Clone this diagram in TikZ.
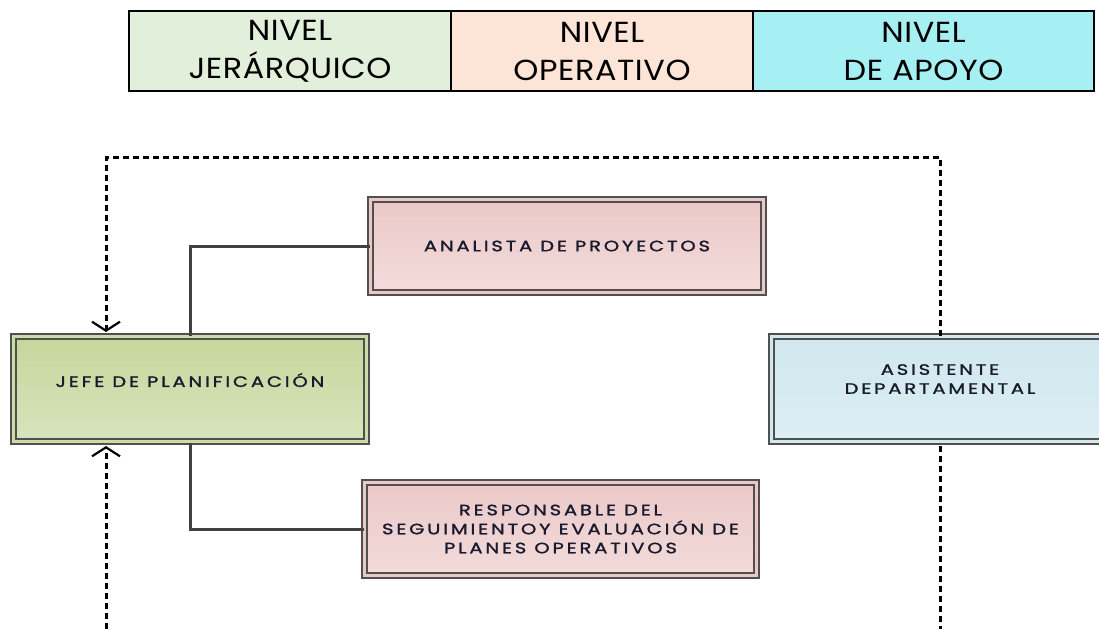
\documentclass[tikz,border=0pt]{standalone}
\usepackage{fontspec}
\setmainfont{Poppins}
\newfontfamily\headfont[FakeStretch=1.1,LetterSpace=2]{Poppins}
\newfontfamily\boxfont[FakeStretch=1.3,LetterSpace=19,FakeBold=1.6]{Poppins}
\usetikzlibrary{arrows.meta,shadows}
\definecolor{hgreen}{HTML}{E2EFDA}
\definecolor{hpeach}{HTML}{FCE4D6}
\definecolor{hcyan}{HTML}{A6EFF2}
\definecolor{bordgray}{HTML}{505050}
\definecolor{conngray}{HTML}{404040}
\definecolor{gtop}{HTML}{C4D79B}
\definecolor{gbot}{HTML}{D8E4BE}
\definecolor{ptop}{HTML}{EBC8C8}
\definecolor{pbot}{HTML}{F2DCDB}
\definecolor{btop}{HTML}{D0E8EE}
\definecolor{bbot}{HTML}{DCEEF3}
\definecolor{txt}{HTML}{1A1A2E}
\tikzset{
  hcell/.style={draw=black, line width=1.6pt, inner sep=0pt, minimum height=80,
    align=center, font=\headfont\fontsize{29}{38}\selectfont},
  orgbox/.style={draw=bordgray, line width=2pt, double distance=3pt,
    shading=axis, shading angle=0, inner sep=0pt,
    drop shadow={shadow xshift=2.5pt, shadow yshift=-2.5pt, fill=black, opacity=0.22}},
  boxtext/.style={align=center, inner sep=0pt, text=txt,
    font=\boxfont\fontsize{15}{19}\selectfont},
  conn/.style={draw=conngray, line width=3pt},
  dl/.style={draw=black, line width=3pt, dash pattern=on 6pt off 4pt},
  arr/.style={-{Straight Barb[length=9pt,width=28pt,line width=2.2pt]}}
}
\begin{document}
\begin{tikzpicture}[x=1pt,y=1pt]
\clip (0,0) rectangle (1099,-629);
\fill[white] (0,0) rectangle (1099,-629);
% header table
\node[hcell, fill=hgreen, minimum width=322] (h1) at (290,-51) {NIVEL\\JERÁRQUICO};
\node[hcell, fill=hpeach, minimum width=302] (h2) at (602,-51) {NIVEL\\OPERATIVO};
\node[hcell, fill=hcyan, minimum width=341] (h3) at (923.5,-51) {NIVEL\\DE APOYO};
% boxes
\node[orgbox, top color=gtop, bottom color=gbot, double=gtop!60!gbot,
  minimum width=353, minimum height=105] (jefe) at (190,-389) {};
\node[orgbox, top color=ptop, bottom color=pbot, double=ptop,
  minimum width=393, minimum height=93] (anal) at (567,-246) {};
\node[orgbox, top color=ptop, bottom color=pbot, double=ptop,
  minimum width=392, minimum height=93] (resp) at (560.5,-529) {};
\node[orgbox, top color=btop, bottom color=bbot, double=btop,
  minimum width=337, minimum height=105] (asis) at (940,-389) {};
% texts
\node[boxtext] (jefet) at (190,-380) {JEFE DE PLANIFICACIÓN};
\node[boxtext] (analt) at (567,-246) {ANALISTA DE PROYECTOS};
\node[boxtext] (respt) at (560.5,-529) {RESPONSABLE DEL\\SEGUIMIENTOY EVALUACIÓN DE\\PLANES OPERATIVOS};
\node[boxtext] (asist) at (940,-379) {ASISTENTE\\DEPARTAMENTAL};
% solid connectors
\coordinate (cx) at (190,0);
\draw[conn] (jefe.north -| cx) |- (anal.west);
\draw[conn] (jefe.south -| cx) |- (resp.west);
% dashed connectors
\coordinate (tl) at (106,-157);
\coordinate (bl) at (106,-629);
\coordinate (br) at (940,-629);
\draw[dl, arr] (asis.north) |- (tl) -- ([yshift=3.5pt]tl |- jefe.north);
\draw[dl] ([yshift=-3.5pt]asis.south) -- (br);
\draw[dl, arr] (bl) -- ([yshift=-3.5pt]bl |- jefe.south);
\end{tikzpicture}
\end{document}
